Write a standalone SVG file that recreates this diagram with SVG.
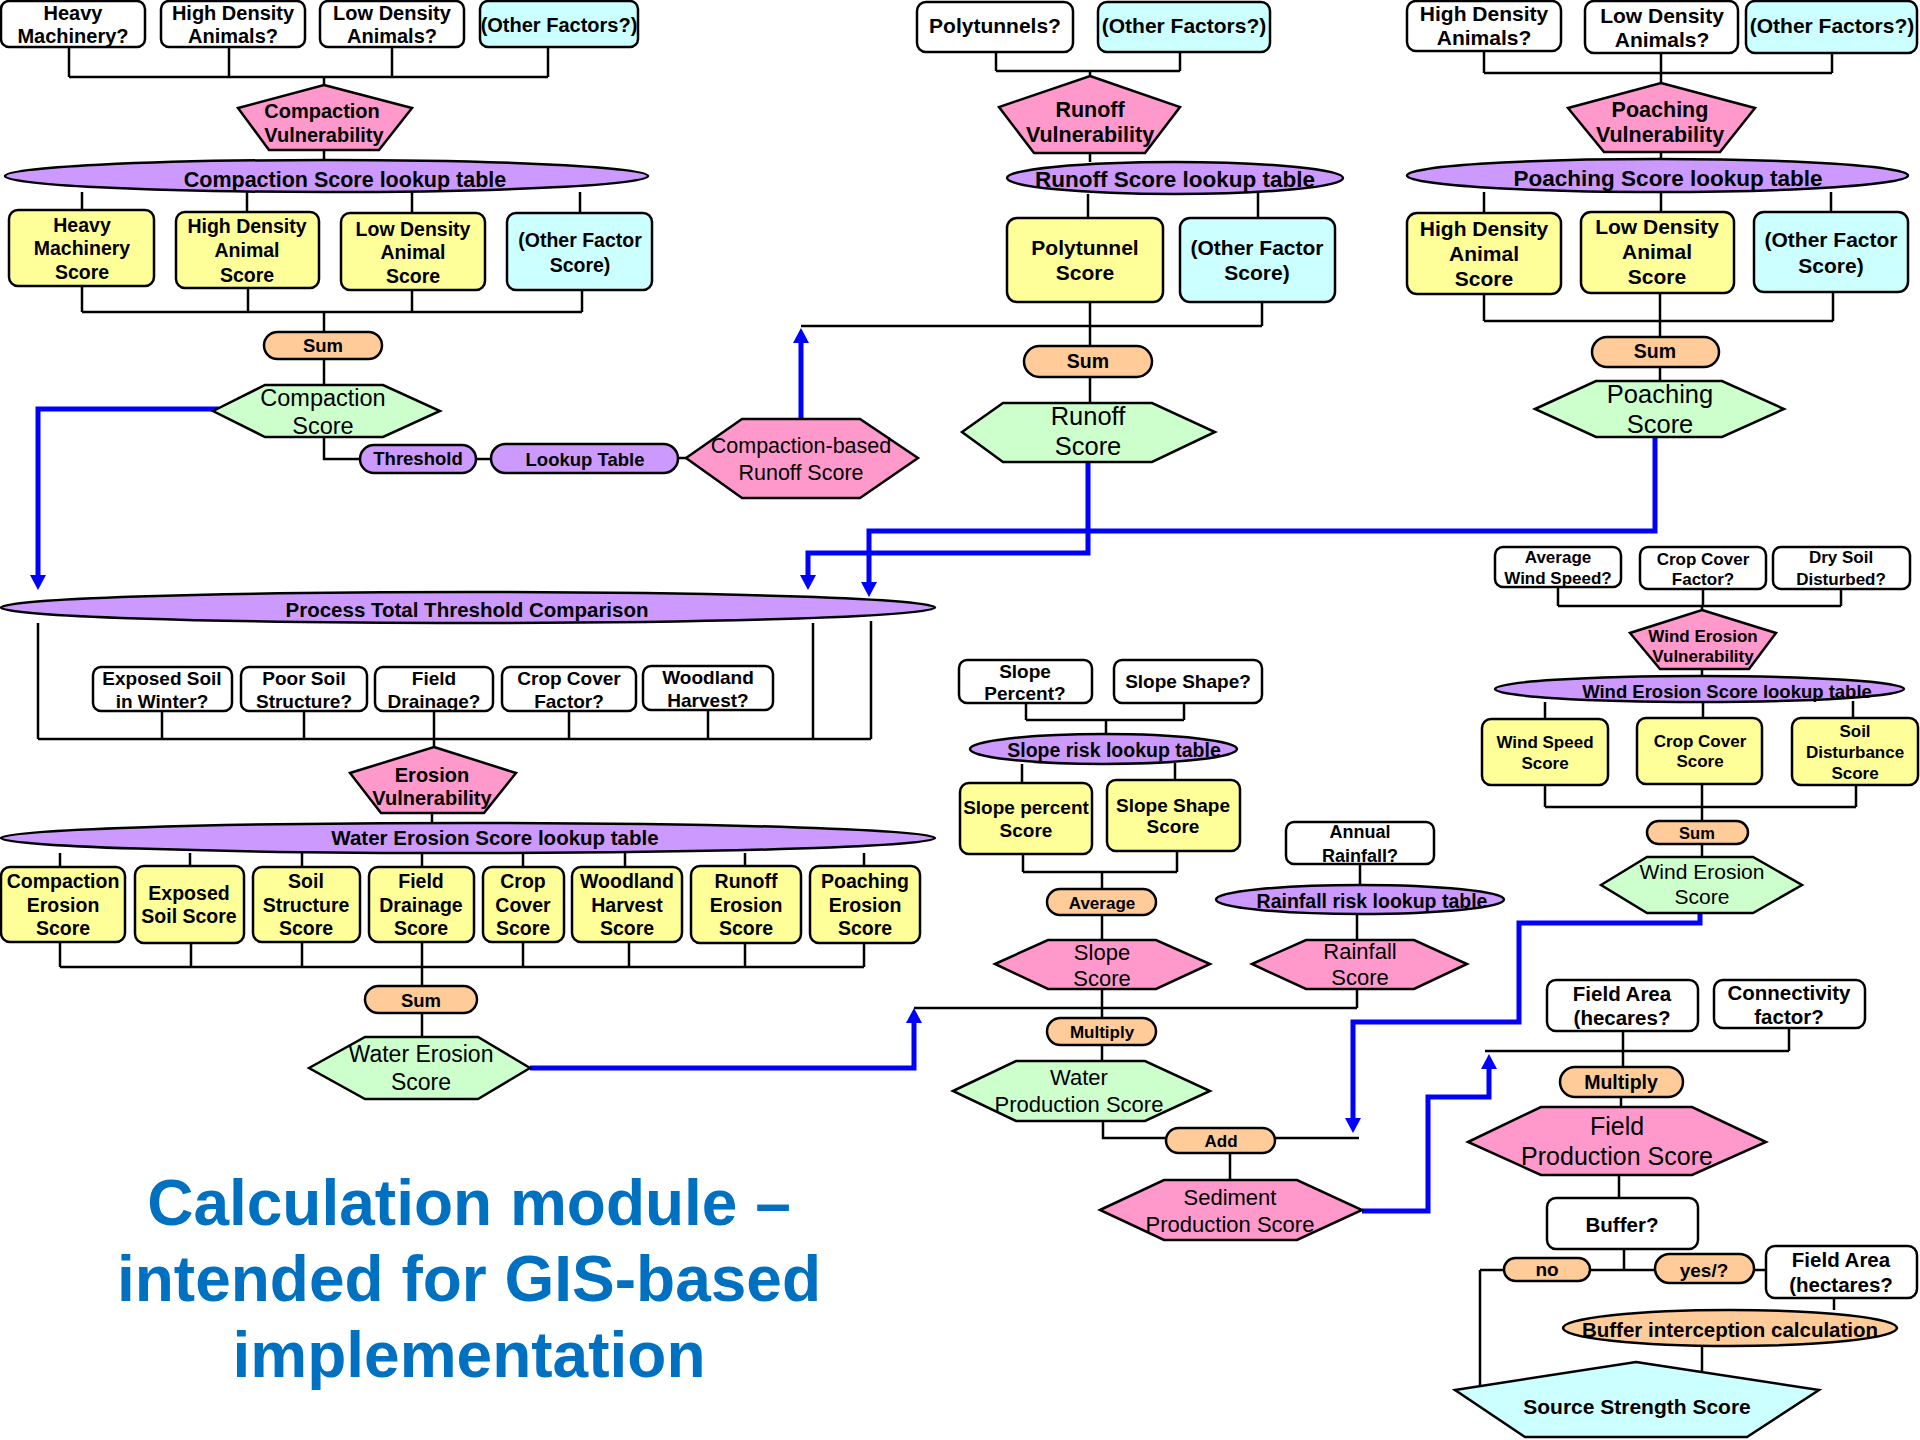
<svg xmlns="http://www.w3.org/2000/svg" width="1920" height="1440" viewBox="0 0 1920 1440">
<style>
text{font-family:"Liberation Sans",Arial,sans-serif;text-anchor:middle;fill:#000}
.b{font-weight:bold}
.r{font-weight:normal}
.s{stroke:#000;stroke-width:2.5}
.q{fill:#fff}
.y{fill:#FFFF99}
.c{fill:#CCFFFF}
.p{fill:#FF99CC}
.v{fill:#CC99FF}
.g{fill:#CCFFCC}
.o{fill:#FFCC99}
.ln{fill:none;stroke:#000;stroke-width:2.5}
.bl{fill:none;stroke:#0000FF;stroke-width:5}
.t{fill:#0070C0;font-weight:bold;font-size:64px}
</style>
<defs>
<marker id="ah" markerUnits="userSpaceOnUse" markerWidth="16" markerHeight="16" refX="3" refY="8" orient="auto" viewBox="0 0 16 16">
<path d="M0,0 L15,8 L0,16 z" fill="#0000FF"/>
</marker>
</defs>

<g id="connectors">
<path class="ln" d="M69,47 V77 M229,47 V77 M392,47 V77 M548,47 V77 M69,77 H548 M324,77 V85 M324,150 V160 M82,192 V210 M247,192 V212 M412,192 V213 M580,192 V213 M82,286 V312 M248,288 V312 M412,290 V312 M582,290 V312 M82,312 H582 M324,312 V332 M324,359 V385 M324,437 V459 H360 M476,459 H491 M678,458 H686"/>
<path class="ln" d="M996,52 V71 M1180,52 V71 M996,71 H1180 M1090,71 V76 M1090,153 V162 M1088,194 V218 M1258,193 V218 M1090,302 V346 M1262,302 V326 M801,326 H1262 M1090,377 V403"/>
<path class="ln" d="M1484,51 V73 M1661,53 V73 M1832,53 V73 M1484,73 H1832 M1661,73 V83 M1661,152 V159 M1484,192 V213 M1661,192 V212 M1831,192 V212 M1484,294 V321 M1660,293 V321 M1833,292 V321 M1484,321 H1833 M1660,321 V337 M1660,367 V381"/>
<path class="ln" d="M38,623 V739 M813,623 V739 M871,621 V739 M38,739 H871 M162,711 V739 M304,711 V739 M434,711 V739 M569,711 V739 M708,710 V739 M434,739 V747 M432,813 V823 M60,853 V867 M190,853 V866 M302,853 V867 M422,853 V867 M523,853 V867 M625,853 V867 M745,853 V866 M864,853 V866 M60,942 V967 M191,943 V967 M302,942 V967 M422,942 V967 M523,942 V967 M629,942 V967 M745,943 V967 M864,943 V967 M60,967 H864 M422,967 V986 M422,1013 V1037"/>
<path class="ln" d="M1026,703 V720 M1184,703 V720 M1026,720 H1184 M1106,720 V734 M1022,764 V783 M1175,763 V780 M1023,854 V872 M1177,851 V872 M1023,872 H1177 M1102,872 V889 M1102,915 V940 M1102,989 V1018 M914,1008 H1357 M1357,989 V1008 M1102,1045 V1061 M1103,1121 V1138 H1166 M1275,1138 H1359 M1230,1153 V1180 M1360,864 V885 M1357,914 V940"/>
<path class="ln" d="M1558,587 V606 M1703,589 V606 M1841,589 V606 M1558,606 H1841 M1702,606 V610 M1702,669 V676 M1545,702 V719 M1703,702 V718 M1853,701 V718 M1545,785 V807 M1702,784 V807 M1856,785 V807 M1545,807 H1856 M1702,807 V821 M1702,844 V857"/>
<path class="ln" d="M1623,1031 V1067 M1789,1028 V1051 M1485,1051 H1789 M1621,1097 V1107 M1619,1175 V1198 M1624,1249 V1270 M1480,1270 H1504 M1590,1270 H1655 M1754,1270 H1766 M1480,1270 V1386 M1834,1298 V1310 M1702,1346 V1371"/>
<path class="bl" marker-end="url(#ah)" d="M219,409 H38 V578"/>
<path class="bl" marker-end="url(#ah)" d="M801,419 V340"/>
<path class="bl" marker-end="url(#ah)" d="M1088,462 V553 H808 V578"/>
<path class="bl" marker-end="url(#ah)" d="M1655,437 V531 H869 V585"/>
<path class="bl" marker-end="url(#ah)" d="M530,1068 H914 V1020"/>
<path class="bl" marker-end="url(#ah)" d="M1700,913 V923 H1519 V1022 H1353 V1121"/>
<path class="bl" marker-end="url(#ah)" d="M1362,1211 H1428 V1097 H1489 V1066"/>
</g>

<!-- Compaction block -->
<g id="q_heavy_machinery"><rect class="s q" x="1" y="1" width="144" height="46" rx="8"/><text class="b" font-size="20"><tspan x="73" y="20">Heavy</tspan><tspan x="73" y="43">Machinery?</tspan></text></g>
<g id="q_high_density_1"><rect class="s q" x="161" y="1" width="144" height="46" rx="8"/><text class="b" font-size="20"><tspan x="233" y="20">High Density</tspan><tspan x="233" y="43">Animals?</tspan></text></g>
<g id="q_low_density_1"><rect class="s q" x="320" y="1" width="144" height="46" rx="8"/><text class="b" font-size="20"><tspan x="392" y="20">Low Density</tspan><tspan x="392" y="43">Animals?</tspan></text></g>
<g id="q_other_1"><rect class="s c" x="480" y="1" width="158" height="46" rx="8"/><text class="b" font-size="20" x="559" y="32">(Other Factors?)</text></g>
<g id="compaction_vulnerability"><polygon class="s p" points="324,85 412,108 379,150 269,150 238,108"/><text class="b" font-size="20"><tspan x="322" y="118">Compaction</tspan><tspan x="324" y="142">Vulnerability</tspan></text></g>
<g id="compaction_lookup"><ellipse class="s v" cx="326.5" cy="176" rx="321.5" ry="16"/><text class="b" font-size="21.5" x="345" y="187">Compaction Score lookup table</text></g>
<g id="s_heavy_machinery"><rect class="s y" x="9" y="210" width="145" height="76" rx="9"/><text class="b" font-size="19.5"><tspan x="82" y="232">Heavy</tspan><tspan x="82" y="255">Machinery</tspan><tspan x="82" y="279">Score</tspan></text></g>
<g id="s_high_density_1"><rect class="s y" x="176" y="212" width="143" height="76" rx="9"/><text class="b" font-size="19.5"><tspan x="247" y="233">High Density</tspan><tspan x="247" y="257">Animal</tspan><tspan x="247" y="282">Score</tspan></text></g>
<g id="s_low_density_1"><rect class="s y" x="341" y="213" width="144" height="77" rx="9"/><text class="b" font-size="19.5"><tspan x="413" y="236">Low Density</tspan><tspan x="413" y="259">Animal</tspan><tspan x="413" y="283">Score</tspan></text></g>
<g id="s_other_1"><rect class="s c" x="507" y="213" width="145" height="77" rx="9"/><text class="b" font-size="19.5"><tspan x="580" y="247">(Other Factor</tspan><tspan x="580" y="272">Score)</tspan></text></g>
<g id="sum_compaction"><rect class="s o" x="264" y="332" width="118" height="27" rx="13.5"/><text class="b" font-size="18.5" x="323" y="352">Sum</text></g>
<g id="compaction_score"><polygon class="s g" points="213,411 265,385 383,385 440,411 383,437 265,437"/><text class="r" font-size="23.5"><tspan x="323" y="406">Compaction</tspan><tspan x="323" y="434">Score</tspan></text></g>
<g id="threshold"><rect class="s v" x="360" y="445" width="116" height="28" rx="14"/><text class="b" font-size="18.5" x="418" y="465">Threshold</text></g>
<g id="lookup_table"><rect class="s v" x="491" y="444" width="187" height="29" rx="14.5"/><text class="b" font-size="18.5" x="585" y="466">Lookup Table</text></g>
<g id="compaction_runoff"><polygon class="s p" points="686,458 742,419 860,419 918,458 860,498 742,498"/><text class="r" font-size="21.5"><tspan x="801" y="453">Compaction-based</tspan><tspan x="801" y="480">Runoff Score</tspan></text></g>

<!-- Runoff block -->
<g id="q_polytunnels"><rect class="s q" x="917" y="2" width="156" height="50" rx="9"/><text class="b" font-size="21" x="995" y="33">Polytunnels?</text></g>
<g id="q_other_2"><rect class="s c" x="1098" y="2" width="172" height="50" rx="9"/><text class="b" font-size="21" x="1184" y="33">(Other Factors?)</text></g>
<g id="runoff_vulnerability"><polygon class="s p" points="1090,76 1180,107 1145,153 1034,153 999,107"/><text class="b" font-size="21.5"><tspan x="1090" y="117">Runoff</tspan><tspan x="1090" y="142">Vulnerability</tspan></text></g>
<g id="runoff_lookup"><ellipse class="s v" cx="1175" cy="178" rx="168" ry="16"/><text class="b" font-size="22.5" x="1175" y="187">Runoff Score lookup table</text></g>
<g id="s_polytunnel"><rect class="s y" x="1007" y="218" width="156" height="84" rx="10"/><text class="b" font-size="21"><tspan x="1085" y="255">Polytunnel</tspan><tspan x="1085" y="280">Score</tspan></text></g>
<g id="s_other_2"><rect class="s c" x="1180" y="218" width="155" height="84" rx="10"/><text class="b" font-size="21"><tspan x="1257" y="255">(Other Factor</tspan><tspan x="1257" y="280">Score)</tspan></text></g>
<g id="sum_runoff"><rect class="s o" x="1024" y="346" width="128" height="31" rx="15.5"/><text class="b" font-size="19.5" x="1088" y="368">Sum</text></g>
<g id="runoff_score"><polygon class="s g" points="962,432 1003,403 1152,403 1215,432 1152,462 1003,462"/><text class="r" font-size="25.5"><tspan x="1088" y="425">Runoff</tspan><tspan x="1088" y="455">Score</tspan></text></g>

<!-- Poaching block -->
<g id="q_high_density_3"><rect class="s q" x="1407" y="1" width="154" height="50" rx="9"/><text class="b" font-size="21"><tspan x="1484" y="21">High Density</tspan><tspan x="1484" y="45">Animals?</tspan></text></g>
<g id="q_low_density_3"><rect class="s q" x="1585" y="1" width="153" height="52" rx="9"/><text class="b" font-size="21"><tspan x="1662" y="23">Low Density</tspan><tspan x="1662" y="47">Animals?</tspan></text></g>
<g id="q_other_3"><rect class="s c" x="1746" y="1" width="171" height="52" rx="9"/><text class="b" font-size="21" x="1832" y="33">(Other Factors?)</text></g>
<g id="poaching_vulnerability"><polygon class="s p" points="1661,83 1755,108 1720,152 1604,152 1568,108"/><text class="b" font-size="21.5"><tspan x="1660" y="117">Poaching</tspan><tspan x="1660" y="142">Vulnerability</tspan></text></g>
<g id="poaching_lookup"><ellipse class="s v" cx="1657.5" cy="175.5" rx="250.5" ry="16.5"/><text class="b" font-size="22.5" x="1668" y="186">Poaching Score lookup table</text></g>
<g id="s_high_density_3"><rect class="s y" x="1407" y="213" width="154" height="81" rx="10"/><text class="b" font-size="21"><tspan x="1484" y="236">High Density</tspan><tspan x="1484" y="261">Animal</tspan><tspan x="1484" y="286">Score</tspan></text></g>
<g id="s_low_density_3"><rect class="s y" x="1581" y="212" width="153" height="81" rx="10"/><text class="b" font-size="21"><tspan x="1657" y="234">Low Density</tspan><tspan x="1657" y="259">Animal</tspan><tspan x="1657" y="284">Score</tspan></text></g>
<g id="s_other_3"><rect class="s c" x="1754" y="212" width="154" height="80" rx="10"/><text class="b" font-size="21"><tspan x="1831" y="247">(Other Factor</tspan><tspan x="1831" y="273">Score)</tspan></text></g>
<g id="sum_poaching"><rect class="s o" x="1592" y="337" width="127" height="30" rx="15"/><text class="b" font-size="19.5" x="1655" y="358">Sum</text></g>
<g id="poaching_score"><polygon class="s g" points="1535,409 1596,381 1722,381 1784,409 1722,437 1596,437"/><text class="r" font-size="25.5"><tspan x="1660" y="403">Poaching</tspan><tspan x="1660" y="433">Score</tspan></text></g>

<!-- Water erosion block -->
<g id="process_total"><ellipse class="s v" cx="468" cy="607.5" rx="467" ry="15.5"/><text class="b" font-size="20.5" x="467" y="617">Process Total Threshold Comparison</text></g>
<g id="q_exposed_soil"><rect class="s q" x="93" y="667" width="139" height="44" rx="8"/><text class="b" font-size="19"><tspan x="162" y="685">Exposed Soil</tspan><tspan x="162" y="708">in Winter?</tspan></text></g>
<g id="q_poor_soil"><rect class="s q" x="241" y="667" width="126" height="44" rx="8"/><text class="b" font-size="19"><tspan x="304" y="685">Poor Soil</tspan><tspan x="304" y="708">Structure?</tspan></text></g>
<g id="q_field_drainage"><rect class="s q" x="375" y="667" width="118" height="44" rx="8"/><text class="b" font-size="19"><tspan x="434" y="685">Field</tspan><tspan x="434" y="708">Drainage?</tspan></text></g>
<g id="q_crop_cover"><rect class="s q" x="502" y="667" width="134" height="44" rx="8"/><text class="b" font-size="19"><tspan x="569" y="685">Crop Cover</tspan><tspan x="569" y="708">Factor?</tspan></text></g>
<g id="q_woodland"><rect class="s q" x="643" y="666" width="130" height="44" rx="8"/><text class="b" font-size="19"><tspan x="708" y="684">Woodland</tspan><tspan x="708" y="707">Harvest?</tspan></text></g>
<g id="erosion_vulnerability"><polygon class="s p" points="434,747 516,773 484,813 381,813 350,773"/><text class="b" font-size="20"><tspan x="432" y="782">Erosion</tspan><tspan x="432" y="805">Vulnerability</tspan></text></g>
<g id="water_erosion_lookup"><ellipse class="s v" cx="468" cy="838" rx="467" ry="15"/><text class="b" font-size="20.5" x="495" y="845">Water Erosion Score lookup table</text></g>
<g id="w_compaction"><rect class="s y" x="1" y="867" width="124" height="75" rx="9"/><text class="b" font-size="19.5"><tspan x="63" y="888">Compaction</tspan><tspan x="63" y="912">Erosion</tspan><tspan x="63" y="935">Score</tspan></text></g>
<g id="w_exposed"><rect class="s y" x="135" y="866" width="109" height="77" rx="9"/><text class="b" font-size="19.5"><tspan x="189" y="900">Exposed</tspan><tspan x="189" y="923">Soil Score</tspan></text></g>
<g id="w_soil_structure"><rect class="s y" x="253" y="867" width="107" height="75" rx="9"/><text class="b" font-size="19.5"><tspan x="306" y="888">Soil</tspan><tspan x="306" y="912">Structure</tspan><tspan x="306" y="935">Score</tspan></text></g>
<g id="w_field_drainage"><rect class="s y" x="369" y="867" width="105" height="75" rx="9"/><text class="b" font-size="19.5"><tspan x="421" y="888">Field</tspan><tspan x="421" y="912">Drainage</tspan><tspan x="421" y="935">Score</tspan></text></g>
<g id="w_crop_cover"><rect class="s y" x="483" y="867" width="81" height="75" rx="9"/><text class="b" font-size="19.5"><tspan x="523" y="888">Crop</tspan><tspan x="523" y="912">Cover</tspan><tspan x="523" y="935">Score</tspan></text></g>
<g id="w_woodland"><rect class="s y" x="572" y="867" width="110" height="75" rx="9"/><text class="b" font-size="19.5"><tspan x="627" y="888">Woodland</tspan><tspan x="627" y="912">Harvest</tspan><tspan x="627" y="935">Score</tspan></text></g>
<g id="w_runoff"><rect class="s y" x="691" y="866" width="110" height="77" rx="9"/><text class="b" font-size="19.5"><tspan x="746" y="888">Runoff</tspan><tspan x="746" y="912">Erosion</tspan><tspan x="746" y="935">Score</tspan></text></g>
<g id="w_poaching"><rect class="s y" x="810" y="866" width="110" height="77" rx="9"/><text class="b" font-size="19.5"><tspan x="865" y="888">Poaching</tspan><tspan x="865" y="912">Erosion</tspan><tspan x="865" y="935">Score</tspan></text></g>
<g id="sum_water"><rect class="s o" x="365" y="986" width="112" height="27" rx="13.5"/><text class="b" font-size="18.5" x="421" y="1007">Sum</text></g>
<g id="water_erosion_score"><polygon class="s g" points="309,1068 365,1037 478,1037 530,1068 478,1099 365,1099"/><text class="r" font-size="23"><tspan x="421" y="1062">Water Erosion</tspan><tspan x="421" y="1090">Score</tspan></text></g>

<!-- Slope / rainfall block -->
<g id="q_slope_percent"><rect class="s q" x="959" y="660" width="133" height="43" rx="8"/><text class="b" font-size="19"><tspan x="1025" y="678">Slope</tspan><tspan x="1025" y="700">Percent?</tspan></text></g>
<g id="q_slope_shape"><rect class="s q" x="1114" y="660" width="148" height="43" rx="8"/><text class="b" font-size="19" x="1188" y="688">Slope Shape?</text></g>
<g id="slope_lookup"><ellipse class="s v" cx="1103.5" cy="749" rx="133.5" ry="15"/><text class="b" font-size="19.5" x="1114" y="757">Slope risk lookup table</text></g>
<g id="s_slope_percent"><rect class="s y" x="960" y="783" width="132" height="71" rx="9"/><text class="b" font-size="19"><tspan x="1026" y="814">Slope percent</tspan><tspan x="1026" y="837">Score</tspan></text></g>
<g id="s_slope_shape"><rect class="s y" x="1107" y="780" width="133" height="71" rx="9"/><text class="b" font-size="19"><tspan x="1173" y="812">Slope Shape</tspan><tspan x="1173" y="833">Score</tspan></text></g>
<g id="average"><rect class="s o" x="1047" y="889" width="109" height="26" rx="13"/><text class="b" font-size="17" x="1102" y="909">Average</text></g>
<g id="slope_score"><polygon class="s p" points="995,964 1048,940 1156,940 1210,964 1156,989 1048,989"/><text class="r" font-size="22"><tspan x="1102" y="960">Slope</tspan><tspan x="1102" y="986">Score</tspan></text></g>
<g id="q_annual_rainfall"><rect class="s q" x="1286" y="822" width="148" height="42" rx="8"/><text class="b" font-size="18"><tspan x="1360" y="838">Annual</tspan><tspan x="1360" y="862">Rainfall?</tspan></text></g>
<g id="rainfall_lookup"><ellipse class="s v" cx="1360" cy="899.5" rx="144" ry="14.5"/><text class="b" font-size="19.5" x="1372" y="908">Rainfall risk lookup table</text></g>
<g id="rainfall_score"><polygon class="s p" points="1252,964 1306,940 1414,940 1467,964 1414,989 1306,989"/><text class="r" font-size="22"><tspan x="1360" y="959">Rainfall</tspan><tspan x="1360" y="985">Score</tspan></text></g>
<g id="multiply_water"><rect class="s o" x="1047" y="1018" width="109" height="27" rx="13.5"/><text class="b" font-size="17" x="1102" y="1038">Multiply</text></g>
<g id="water_production"><polygon class="s g" points="953,1091 1016,1061 1145,1061 1210,1091 1145,1121 1016,1121"/><text class="r" font-size="22"><tspan x="1079" y="1085">Water</tspan><tspan x="1079" y="1112">Production Score</tspan></text></g>
<g id="add"><rect class="s o" x="1166" y="1128" width="109" height="25" rx="12.5"/><text class="b" font-size="17" x="1221" y="1147">Add</text></g>
<g id="sediment_production"><polygon class="s p" points="1100,1210 1164,1180 1297,1180 1362,1210 1297,1240 1164,1240"/><text class="r" font-size="22"><tspan x="1230" y="1205">Sediment</tspan><tspan x="1230" y="1232">Production Score</tspan></text></g>

<!-- Wind block -->
<g id="q_wind_speed"><rect class="s q" x="1495" y="547" width="126" height="40" rx="8"/><text class="b" font-size="17"><tspan x="1558" y="563">Average</tspan><tspan x="1558" y="584">Wind Speed?</tspan></text></g>
<g id="q_crop_cover_w"><rect class="s q" x="1640" y="547" width="126" height="42" rx="8"/><text class="b" font-size="17"><tspan x="1703" y="565">Crop Cover</tspan><tspan x="1703" y="585">Factor?</tspan></text></g>
<g id="q_dry_soil"><rect class="s q" x="1773" y="547" width="137" height="42" rx="8"/><text class="b" font-size="17"><tspan x="1841" y="563">Dry Soil</tspan><tspan x="1841" y="585">Disturbed?</tspan></text></g>
<g id="wind_vulnerability"><polygon class="s p" points="1702,610 1776,633 1749,669 1660,669 1630,633"/><text class="b" font-size="17"><tspan x="1703" y="642">Wind Erosion</tspan><tspan x="1703" y="662">Vulnerability</tspan></text></g>
<g id="wind_lookup"><ellipse class="s v" cx="1699.5" cy="689" rx="204.5" ry="13"/><text class="b" font-size="18.5" x="1727" y="698">Wind Erosion Score lookup table</text></g>
<g id="s_wind_speed"><rect class="s y" x="1482" y="719" width="126" height="66" rx="9"/><text class="b" font-size="17"><tspan x="1545" y="748">Wind Speed</tspan><tspan x="1545" y="769">Score</tspan></text></g>
<g id="s_crop_cover_w"><rect class="s y" x="1637" y="718" width="125" height="66" rx="9"/><text class="b" font-size="17"><tspan x="1700" y="747">Crop Cover</tspan><tspan x="1700" y="767">Score</tspan></text></g>
<g id="s_soil_disturbance"><rect class="s y" x="1792" y="718" width="126" height="67" rx="9"/><text class="b" font-size="17"><tspan x="1855" y="737">Soil</tspan><tspan x="1855" y="758">Disturbance</tspan><tspan x="1855" y="779">Score</tspan></text></g>
<g id="sum_wind"><rect class="s o" x="1647" y="821" width="101" height="23" rx="11.5"/><text class="b" font-size="16.5" x="1697" y="839">Sum</text></g>
<g id="wind_erosion_score"><polygon class="s g" points="1601,885 1647,857 1753,857 1802,885 1753,913 1647,913"/><text class="r" font-size="21"><tspan x="1702" y="879">Wind Erosion</tspan><tspan x="1702" y="904">Score</tspan></text></g>

<!-- Field production block -->
<g id="q_field_area_1"><rect class="s q" x="1547" y="980" width="151" height="51" rx="9"/><text class="b" font-size="20.5"><tspan x="1622" y="1001">Field Area</tspan><tspan x="1622" y="1025">(hecares?</tspan></text></g>
<g id="q_connectivity"><rect class="s q" x="1714" y="980" width="151" height="48" rx="9"/><text class="b" font-size="20.5"><tspan x="1789" y="1000">Connectivity</tspan><tspan x="1789" y="1024">factor?</tspan></text></g>
<g id="multiply_field"><rect class="s o" x="1560" y="1067" width="123" height="30" rx="15"/><text class="b" font-size="19.5" x="1621" y="1089">Multiply</text></g>
<g id="field_production"><polygon class="s p" points="1468,1142 1541,1107 1692,1107 1766,1142 1692,1175 1541,1175"/><text class="r" font-size="25"><tspan x="1617" y="1135">Field</tspan><tspan x="1617" y="1165">Production Score</tspan></text></g>
<g id="q_buffer"><rect class="s q" x="1547" y="1198" width="151" height="51" rx="9"/><text class="b" font-size="20.5" x="1622" y="1232">Buffer?</text></g>
<g id="no"><rect class="s o" x="1504" y="1258" width="86" height="23" rx="11.5"/><text class="b" font-size="19" x="1547" y="1276">no</text></g>
<g id="yes"><rect class="s o" x="1655" y="1254" width="99" height="29" rx="14.5"/><text class="b" font-size="19" x="1704" y="1277">yes/?</text></g>
<g id="q_field_area_2"><rect class="s q" x="1766" y="1246" width="151" height="52" rx="9"/><text class="b" font-size="20.5"><tspan x="1841" y="1267">Field Area</tspan><tspan x="1841" y="1292">(hectares?</tspan></text></g>
<g id="buffer_interception"><ellipse class="s o" cx="1730" cy="1328" rx="167" ry="18"/><text class="b" font-size="20.5" x="1730" y="1337">Buffer interception calculation</text></g>
<g id="source_strength"><polygon class="s c" points="1636,1362 1819,1390 1747,1437 1525,1437 1455,1390"/><text class="b" font-size="21" x="1637" y="1414">Source Strength Score</text></g>

<g id="title"><text class="t"><tspan x="469" y="1225">Calculation module –</tspan><tspan x="469" y="1301">intended for GIS-based</tspan><tspan x="469" y="1377">implementation</tspan></text></g>
</svg>
